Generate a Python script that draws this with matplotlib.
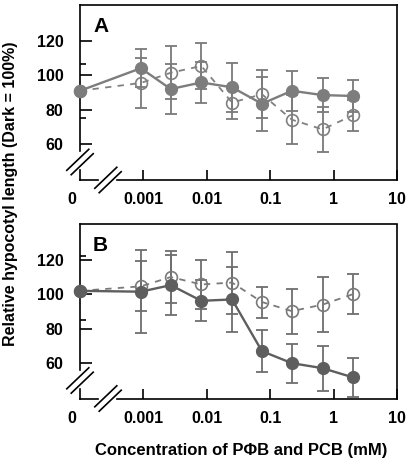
import matplotlib
matplotlib.use('Agg')
import matplotlib.pyplot as plt
from matplotlib.lines import Line2D

plt.rcParams['font.family'] = ['Liberation Sans', 'DejaVu Sans']
plt.rcParams['font.weight'] = 'bold'

# concentrations (mM); 1e-4 stands for the "0" control at the left edge
conc = [1e-4, 0.00091, 0.0027, 0.0082, 0.025, 0.074, 0.22, 0.67, 2.0]
xtick_vals = [0.001, 0.01, 0.1, 1, 10]
xtick_labels = ['0.001', '0.01', '0.1', '1', '10']
ytick_vals = [60, 80, 100, 120]

# panel A
a_filled = [91, 104, 92, 95.8, 93, 83.5, 91, 88.5, 88]
a_filled_err = [0, 11, 14.5, 12, 14, 15.5, 11.5, 10, 9]
a_open = [91, 95.5, 101.4, 105.3, 84.2, 89, 74.3, 68.7, 76.8]
a_open_err = [0, 14.5, 15.4, 13.2, 9.5, 14, 14, 13, 9]
a_minor = [75.5, 106.5]

# panel B
b_filled = [102, 101.5, 105.3, 96.2, 97, 67, 60, 57.1, 51.8]
b_filled_err = [0, 24, 17.5, 12, 19, 12.2, 11.4, 13, 11.4]
b_open = [102, 104.6, 110, 105.7, 106.8, 95.5, 90.2, 94, 100]
b_open_err = [0, 14.5, 15, 14, 18, 9, 13, 16, 11.5]
b_minor = [85, 122]

W, H = 410, 468
fig = plt.figure(figsize=(W / 100, H / 100), dpi=100)


def draw_panel(ax, filled, ferr, opn, oerr, fcol, ocol, ecol, letter, minor):
    ax.set_xscale('log')
    ax.set_xlim(1e-4, 10)
    ax.set_ylim(39.5, 140.5)

    ax.errorbar(conc[1:], opn[1:], yerr=oerr[1:], fmt='none', ecolor=ecol,
                elinewidth=1.3, capsize=4, capthick=1.3, zorder=2)
    ax.errorbar(conc[1:], filled[1:], yerr=ferr[1:], fmt='none', ecolor=ecol,
                elinewidth=1.3, capsize=4, capthick=1.3, zorder=2)
    ax.plot(conc, opn, ls=(0, (3.5, 3.5)), color=ocol, lw=1.3, marker='o',
            mfc='none', mec=ocol, ms=8.5, mew=1.2, clip_on=False, zorder=3)
    ax.plot(conc, filled, '-', color=fcol, lw=1.7, marker='o', mfc=fcol,
            mec=fcol, ms=8.5, clip_on=False, zorder=4)

    ax.set_xticks(xtick_vals)
    ax.set_xticklabels(xtick_labels)
    ax.xaxis.set_minor_locator(plt.NullLocator())
    ax.set_yticks(ytick_vals)
    ax.set_yticks(minor, minor=True)
    ax.tick_params(axis='both', which='major', direction='in', width=1.2,
                   labelsize=11.5, colors='black')
    ax.tick_params(axis='y', which='major', length=8.5, pad=12)
    ax.tick_params(axis='y', which='minor', direction='in', length=4.5, width=1.2)
    ax.tick_params(axis='x', which='major', length=7, pad=9)

    ax.annotate('0', xy=(0, 0), xycoords='axes fraction',
                xytext=(-6, -9), textcoords='offset points',
                ha='center', va='top', fontsize=11.5, fontweight='bold')
    ax.text(0.065, 0.88, letter, transform=ax.transAxes, fontsize=15,
            fontweight='bold', ha='center', va='center')

    # axis frame with breaks
    for side in ('left', 'bottom'):
        ax.spines[side].set_visible(False)
    for side in ('top', 'right'):
        ax.spines[side].set_linewidth(1.2)
    pos = ax.get_position()
    wpx, hpx = pos.width * W, pos.height * H
    fx = lambda p: p / wpx
    fy = lambda p: p / hpx
    kw = dict(transform=ax.transAxes, color='black', lw=1.2, clip_on=False)
    ax.add_line(Line2D([0, 0], [fy(29), 1], **kw))
    ax.add_line(Line2D([0, 0], [0, fy(10)], **kw))
    ax.add_line(Line2D([0, fx(18)], [0, 0], **kw))
    ax.add_line(Line2D([fx(37), 1], [0, 0], **kw))
    # slashes: y-axis break and x-axis break
    for cx, cy in ((0, 18), (28, 0)):
        for d in (-2.2, 2.2):
            x0, y0 = cx - 11 + d, cy - 10.5 - d
            x1, y1 = cx + 11 + d, cy + 10.5 - d
            ax.add_line(Line2D([fx(x0), fx(x1)], [fy(y0), fy(y1)], **kw))


ax_a = fig.add_axes([80 / W, (H - 180) / H, 317 / W, 175 / H])
ax_b = fig.add_axes([80 / W, (H - 398.5) / H, 317 / W, 174 / H])

draw_panel(ax_a, a_filled, a_filled_err, a_open, a_open_err,
           '#7d7d7d', '#808080', '#7a7a7a', 'A', a_minor)
draw_panel(ax_b, b_filled, b_filled_err, b_open, b_open_err,
           '#5e5e5e', '#7a7a7a', '#6e6e6e', 'B', b_minor)

fig.text(11 / W, 1 - 194 / H, 'Relative hypocotyl length (Dark = 100%)',
         rotation=90, ha='center', va='center', fontsize=11.5, fontweight='bold')
fig.text(241 / W, 1 - 450 / H, 'Concentration of P\u03a6B and PCB (mM)',
         ha='center', va='center', fontsize=12, fontweight='bold')

fig.savefig('out.png', dpi=100)
